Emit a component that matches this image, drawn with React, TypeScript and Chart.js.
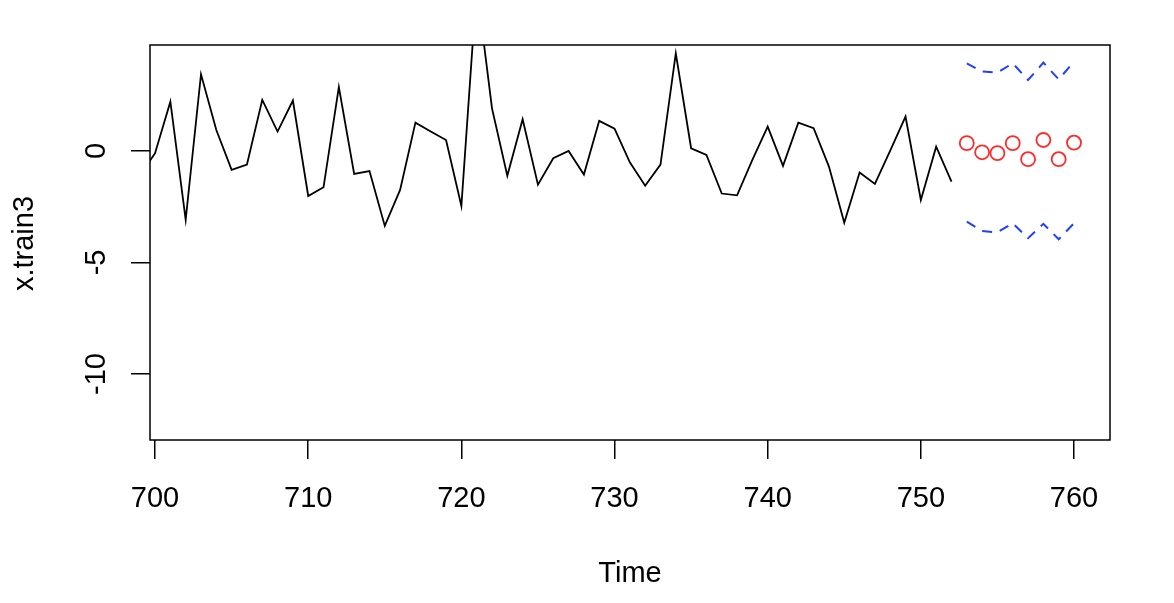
import React, { useEffect, useRef } from "react";
import { Chart, registerables } from "chart.js";

Chart.register(...registerables);

// Observed series (the first point lies just left of the visible range and is clipped)
const obsTimes = [
  699, 700, 701, 702, 703, 704, 705, 706, 707, 708, 709, 710, 711, 712, 713, 714,
  715, 716, 717, 718, 719, 720, 721, 722, 723, 724, 725, 726, 727, 728, 729, 730,
  731, 732, 733, 734, 735, 736, 737, 738, 739, 740, 741, 742, 743, 744, 745, 746,
  747, 748, 749, 750, 751, 752,
];
const obsValues = [
  -1.12, -0.1, 2.21, -3.09, 3.44, 0.94, -0.85, -0.61, 2.29, 0.87, 2.26, -2.02, -1.63,
  2.86, -1.03, -0.9, -3.36, -1.75, 1.27, 0.87, 0.49, -2.47, 7.4, 1.91, -1.11, 1.42,
  -1.51, -0.33, 0.0, -1.06, 1.35, 1.0, -0.51, -1.56, -0.61, 4.38, 0.12, -0.18, -1.91,
  -1.99, -0.4, 1.09, -0.67, 1.27, 1.02, -0.7, -3.22, -0.97, -1.48, 0.01, 1.54, -2.2,
  0.19, -1.38,
];

// Forecast
const fcTimes = [753, 754, 755, 756, 757, 758, 759, 760];
const fcMean = [0.35, -0.06, -0.1, 0.35, -0.37, 0.49, -0.37, 0.37];
const fcUpper = [3.93, 3.56, 3.51, 3.93, 3.18, 3.96, 3.21, 4.0];
const fcLower = [-3.17, -3.59, -3.65, -3.24, -3.91, -3.27, -3.96, -3.24];

// Axes
const xTicks = [700, 710, 720, 730, 740, 750, 760];
const yTicks = [-10, -5, 0];
const xMin = 699.67;
const xMax = 762.35;
const yMin = -12.96;
const yMax = 4.75;
const xTitle = "Time";
const yTitle = "x.train3";

const FONT = '"Liberation Sans", Arial, Helvetica, sans-serif';

export default function App() {
  const canvasRef = useRef<HTMLCanvasElement | null>(null);

  useEffect(() => {
    const canvas = canvasRef.current;
    if (!canvas) return;

    const pts = (xs: number[], ys: number[]) => xs.map((x, i) => ({ x, y: ys[i] }));

    const textPlugin = {
      id: "rText",
      afterDraw(chart: any) {
        const ctx = chart.ctx;
        const ca = chart.chartArea;
        const xs = chart.scales.x;
        const ys = chart.scales.y;
        ctx.save();
        // frame
        ctx.strokeStyle = "#000";
        ctx.lineWidth = 1.5;
        ctx.strokeRect(ca.left, ca.top, ca.right - ca.left, ca.bottom - ca.top);
        ctx.fillStyle = "#000";
        ctx.font = `29px ${FONT}`;
        ctx.textAlign = "center";
        ctx.textBaseline = "alphabetic";
        // x tick labels
        xTicks.forEach((v) => {
          ctx.fillText(String(v), xs.getPixelForValue(v), 507);
        });
        // x title
        ctx.fillText(xTitle, (ca.left + ca.right) / 2, 581.5);
        // y tick labels (rotated)
        yTicks.forEach((v) => {
          ctx.save();
          ctx.translate(105, ys.getPixelForValue(v));
          ctx.rotate(-Math.PI / 2);
          ctx.fillText(String(v), 0, 0);
          ctx.restore();
        });
        // y title
        ctx.save();
        ctx.translate(33, (ca.top + ca.bottom) / 2 + 1);
        ctx.rotate(-Math.PI / 2);
        ctx.fillText(yTitle, 0, 0);
        ctx.restore();
        ctx.restore();
      },
    };

    const chart = new Chart(canvas, {
      type: "line",
      data: {
        datasets: [
          {
            label: "obs",
            data: pts(obsTimes, obsValues),
            borderColor: "#000",
            borderWidth: 1.8,
            pointRadius: 0,
            tension: 0,
            fill: false,
          },
          {
            label: "upper",
            data: pts(fcTimes, fcUpper),
            borderColor: "#2040ff",
            borderWidth: 2,
            borderDash: [10, 8],
            pointRadius: 0,
            tension: 0,
            fill: false,
          },
          {
            label: "lower",
            data: pts(fcTimes, fcLower),
            borderColor: "#2040ff",
            borderWidth: 2,
            borderDash: [10, 8],
            pointRadius: 0,
            tension: 0,
            fill: false,
          },
          {
            label: "forecast",
            data: pts(fcTimes, fcMean),
            showLine: false,
            borderColor: "#ff2a2a",
            backgroundColor: "rgba(0,0,0,0)",
            pointRadius: 7,
            pointBorderWidth: 1.8,
            pointBorderColor: "#ff2a2a",
            pointBackgroundColor: "rgba(0,0,0,0)",
            pointStyle: "circle",
          },
        ],
      },
      options: {
        responsive: false,
        animation: false,
        devicePixelRatio: 1,
        layout: { padding: { top: 45, right: 64, left: 0, bottom: 0 } },
        plugins: {
          legend: { display: false },
          tooltip: { enabled: false },
          title: { display: false },
        },
        scales: {
          x: {
            type: "linear",
            min: xMin,
            max: xMax,
            afterBuildTicks: (s: any) => {
              s.ticks = xTicks.map((v) => ({ value: v }));
            },
            afterFit: (s: any) => {
              s.height = 603 - 440;
            },
            border: { display: false },
            grid: {
              drawOnChartArea: false,
              drawTicks: true,
              tickLength: 19,
              color: "#000",
              lineWidth: 1.5,
            },
            ticks: { display: false },
          },
          y: {
            type: "linear",
            min: yMin,
            max: yMax,
            afterBuildTicks: (s: any) => {
              s.ticks = yTicks.map((v) => ({ value: v }));
            },
            afterFit: (s: any) => {
              s.width = 150;
            },
            border: { display: false },
            grid: {
              drawOnChartArea: false,
              drawTicks: true,
              tickLength: 19,
              color: "#000",
              lineWidth: 1.5,
            },
            ticks: { display: false },
          },
        },
      },
      plugins: [textPlugin],
    } as any);

    return () => {
      chart.destroy();
    };
  }, []);

  return (
    <div
      style={{
        position: "fixed",
        left: 0,
        top: 0,
        width: 1174,
        height: 603,
        background: "#fff",
      }}
    >
      <canvas ref={canvasRef} width={1174} height={603} />
    </div>
  );
}
